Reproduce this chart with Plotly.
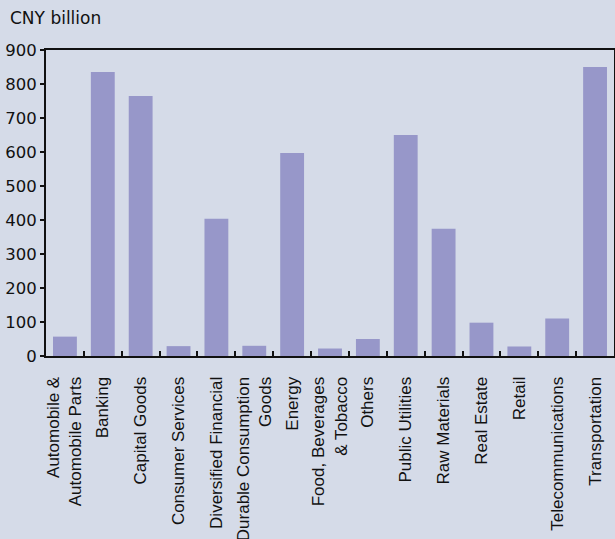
import plotly.graph_objects as go

categories = [
    "Automobile &<br>Automobile Parts", "Banking", "Capital Goods", "Consumer Services",
    "Diversified Financial", "Durable Consumption<br>Goods", "Energy",
    "Food, Beverages<br>& Tobacco", "Others", "Public Utilities", "Raw Materials",
    "Real Estate", "Retail", "Telecommunications", "Transportation",
]
values = [57, 835, 765, 29, 404, 30, 597, 22, 50, 650, 374, 98, 28, 110, 850]
y_ticks = [0, 100, 200, 300, 400, 500, 600, 700, 800, 900]

bg = "#d5dbe8"
fig = go.Figure(go.Bar(x=categories, y=values, marker=dict(color="#9797c9", line=dict(width=0))))

fig.update_layout(
    width=615, height=539,
    paper_bgcolor=bg, plot_bgcolor=bg,
    margin=dict(l=46, r=1, t=50, b=183),
    bargap=0.37,
    showlegend=False,
    font=dict(family="DejaVu Sans", color="#111111"),
    annotations=[dict(
        text="CNY billion", xref="paper", yref="paper",
        x=-0.067, y=1.105, xanchor="left", yanchor="middle",
        showarrow=False, font=dict(family="DejaVu Sans", size=17, color="#111111"),
    )],
)
fig.update_xaxes(
    tickangle=-90, tickson="boundaries", ticks="inside", ticklen=5, tickwidth=1.5,
    tickcolor="#111111",
    showline=True, linecolor="#111111", linewidth=2, mirror=True,
    tickfont=dict(family="Liberation Sans", size=17, color="#111111"),
    automargin=False, ticklabelstandoff=12,
)
fig.update_yaxes(
    range=[0, 900], tickvals=y_ticks, ticks="outside", ticklen=4, tickwidth=1.5,
    tickcolor="#111111", showgrid=False, zeroline=False,
    showline=True, linecolor="#111111", linewidth=2, mirror=True,
    tickfont=dict(family="DejaVu Sans", size=16.5, color="#111111"),
    automargin=False, ticklabelstandoff=0,
)

fig.write_html("out.html", config={"displayModeBar": False},
               post_script="document.body.style.margin='0';")
